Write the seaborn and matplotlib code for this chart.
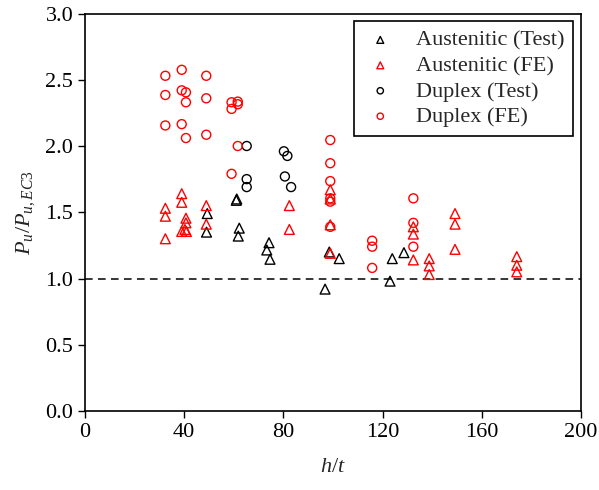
import matplotlib
matplotlib.use("Agg")
import matplotlib.pyplot as plt
import seaborn as sns
import numpy as np

# ---- data ----
aus_test_x = [49.3, 49.0, 61.2, 61.0, 62.2, 61.8, 74.2, 73.3, 74.6, 98.5, 102.5, 96.8, 123.9, 128.6, 123.0]
aus_test_y = [1.49, 1.35, 1.60, 1.59, 1.38, 1.32, 1.27, 1.215, 1.145, 1.20, 1.15, 0.92, 1.15, 1.195, 0.98]

aus_fe_x = [32.4, 32.4, 32.4, 39.0, 39.0, 39.0, 40.7, 40.7, 40.3, 40.9, 48.9, 48.9,
            82.4, 82.4, 98.9, 98.9, 98.9, 98.9, 132.4, 132.4, 132.4,
            138.8, 138.8, 138.8, 149.2, 149.2, 149.2, 174.1, 174.1, 174.1]
aus_fe_y = [1.53, 1.47, 1.30, 1.64, 1.575, 1.355, 1.455, 1.42, 1.37, 1.355, 1.55, 1.41,
            1.55, 1.37, 1.67, 1.60, 1.405, 1.19, 1.39, 1.335, 1.14,
            1.15, 1.095, 1.03, 1.49, 1.41, 1.22, 1.165, 1.10, 1.05]

dup_test_x = [65.2, 65.2, 65.2, 80.2, 81.6, 80.6, 83.1]
dup_test_y = [2.00, 1.75, 1.69, 1.96, 1.925, 1.77, 1.69]

dup_fe_x = [32.4, 32.4, 32.4, 39.0, 39.0, 39.0, 40.7, 40.7, 40.7, 48.9, 48.9, 48.9,
            59.1, 59.1, 59.1, 61.6, 61.6, 61.6, 98.9, 98.9, 98.9, 98.9, 98.9, 98.9,
            115.8, 115.8, 115.8, 132.4, 132.4, 132.4]
dup_fe_y = [2.53, 2.385, 2.155, 2.575, 2.42, 2.165, 2.405, 2.33, 2.06, 2.53, 2.36, 2.085,
            2.33, 2.28, 1.79, 2.335, 2.315, 2.00, 2.045, 1.87, 1.735, 1.605, 1.58, 1.39,
            1.285, 1.24, 1.08, 1.605, 1.42, 1.24]

series_labels = ["Austenitic (Test)", "Austenitic (FE)", "Duplex (Test)", "Duplex (FE)"]
x_ticks = [0, 40, 80, 120, 160, 200]
y_ticks = [0.0, 0.5, 1.0, 1.5, 2.0, 2.5, 3.0]

# ---- style ----
sns.set_style("ticks")
plt.rcParams["font.family"] = ["Liberation Serif", "DejaVu Serif"]
plt.rcParams["mathtext.fontset"] = "custom"
plt.rcParams["mathtext.it"] = "Liberation Serif:italic"
plt.rcParams["mathtext.rm"] = "Liberation Serif"
plt.rcParams["mathtext.cal"] = "Liberation Serif:italic"

fig = plt.figure(figsize=(5.99, 4.90), dpi=100)
ax = fig.add_axes([85 / 599, 1 - 411 / 490, (581 - 85) / 599, (411 - 13.5) / 490])

series = [
    (aus_test_x, aus_test_y, "^", "black", 50, series_labels[0]),
    (aus_fe_x, aus_fe_y, "^", "red", 50, series_labels[1]),
    (dup_test_x, dup_test_y, "o", "black", 42, series_labels[2]),
    (dup_fe_x, dup_fe_y, "o", "red", 42, series_labels[3]),
]
for xs, ys, mk, col, s, lab in series:
    sns.scatterplot(x=xs, y=ys, marker=mk, s=s, facecolor="none", edgecolor=col,
                    linewidth=1.0, ax=ax, label=lab, zorder=3)

ax.axhline(1.0, color="black", linestyle=(0, (5, 3.5)), linewidth=1.1, zorder=2)

ax.set_xlim(0, 200)
ax.set_ylim(0, 3.0)
ax.set_xticks(x_ticks)
ax.set_yticks(y_ticks)
ax.set_yticklabels([f"{v:.1f}" for v in y_ticks])
ax.tick_params(direction="out", length=5, width=1.0, labelsize=16, colors="black")
for sp in ax.spines.values():
    sp.set_visible(True)
    sp.set_linewidth(1.2)
    sp.set_color("black")

ax.set_xlabel(r"$h/t$", fontsize=16, labelpad=12)
ax.set_ylabel(r"$P_u/P_{u,EC3}$", fontsize=16, labelpad=6)

leg = ax.legend(loc="upper right", fontsize=16, markerscale=0.7, frameon=True,
                fancybox=False, framealpha=1, edgecolor="black",
                handletextpad=0.8, borderpad=0.4, labelspacing=0.22,
                borderaxespad=0.35, handlelength=1.6)
leg.get_frame().set_linewidth(1.2)

fig.savefig("out.png", dpi=100)
